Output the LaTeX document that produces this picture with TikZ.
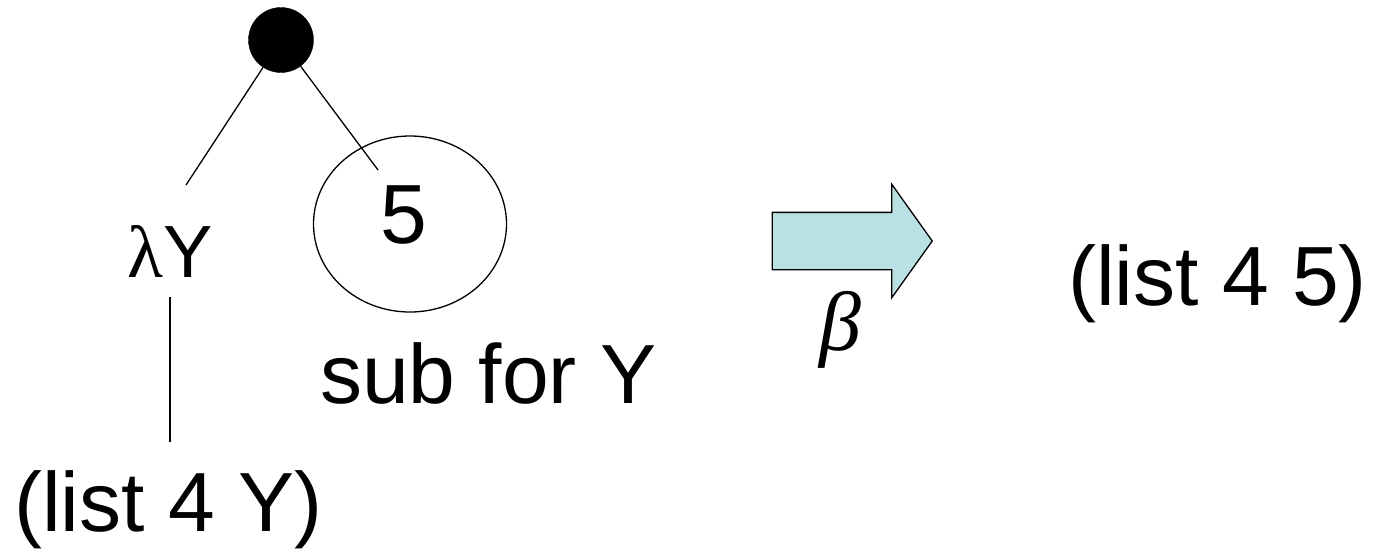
\documentclass[tikz,border=0pt]{standalone}
\usepackage{fontspec}
\setmainfont{Liberation Sans}
\newfontfamily\grkfont{Liberation Serif}
\usepackage{tikz}
\usetikzlibrary{shapes.geometric,shapes.arrows,positioning}
\usepackage{xcolor}
\definecolor{cArrow}{RGB}{185,225,228}
\tikzset{
  termtext/.style={inner sep=0pt,font=\fontsize{84}{96}\selectfont},
  lamtext/.style={inner sep=0pt,font=\fontsize{74}{86}\selectfont},
  appnode/.style={circle,fill=black,draw=black,inner sep=0pt,minimum size=65pt},
  argnode/.style={ellipse,draw=black,line width=1.3pt,inner sep=0pt,
                  minimum width=193pt,minimum height=176pt},
  edge/.style={line width=1.3pt,color=black},
  betaarr/.style={single arrow,draw=black,line width=1.3pt,fill=cArrow,
                  inner xsep=0pt,inner ysep=28pt,minimum height=160pt,
                  single arrow head extend=28pt,single arrow tip angle=109}
}
\begin{document}
\begin{tikzpicture}[x=1pt,y=-1pt]
  \useasboundingbox (0,0) rectangle (1380,550);

  % redex tree
  \node[appnode] (app) at (281,40) {};
  \node[lamtext,anchor=base] (lam) at (170,277) {{\grkfont λ}Y};
  \node[termtext,anchor=base west] (body) at (14,531) {(list 4 Y)};
  \node[argnode] (arg) at (410,224) {};
  \node[termtext,anchor=base] (five) at (404,243) {5};
  \node[termtext,anchor=base west] (sub) at (320,403) {sub for Y};
  \coordinate (lamend) at (186,185);
  \coordinate (argend) at (378,170);

  \draw[edge] (app) -- (lamend);
  \draw[edge] (app) -- (argend);
  \draw[edge,shorten <=20pt,shorten >=28pt] (lam.south) -- (lam.south |- body.north);

  % reduction step
  \node[betaarr] (step) at (842,241) {};
  \node[termtext,anchor=north] (beta) at (840,291) {\grkfont\itshape β};
  \node[termtext,anchor=base west] (res) at (1068,305) {(list 4 5)};

\end{tikzpicture}
\end{document}
